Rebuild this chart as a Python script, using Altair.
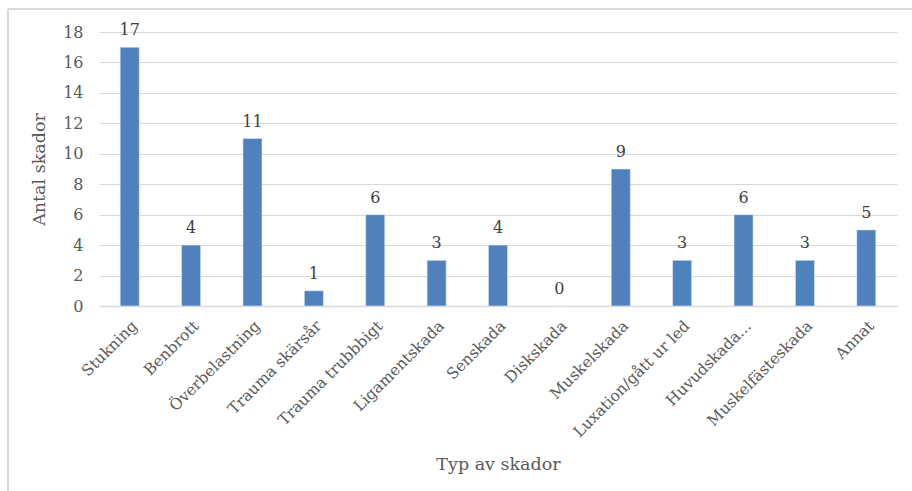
import altair as alt
import pandas as pd

categories = ["Stukning", "Benbrott", "Överbelastning", "Trauma skärsår", "Trauma trubbbigt",
              "Ligamentskada", "Senskada", "Diskskada", "Muskelskada", "Luxation/gått ur led",
              "Huvudskada...", "Muskelfästeskada", "Annat"]
values = [17, 4, 11, 1, 6, 3, 4, 0, 9, 3, 6, 3, 5]
y_ticks = [0, 2, 4, 6, 8, 10, 12, 14, 16, 18]

df = pd.DataFrame({"Typ": categories, "Antal": values})

FONT = "DejaVu Serif"
GRAY = "#595959"

x = alt.X("Typ:N", sort=categories, title="Typ av skador",
          scale=alt.Scale(paddingInner=0.69, paddingOuter=0.345),
          axis=alt.Axis(labelAngle=-45, labelFontSize=15.5, labelFont=FONT, labelColor=GRAY,
                        ticks=False, domainColor="#D9D9D9", domainWidth=1.5,
                        labelOverlap=False, labelLimit=300,
                        titleFont=FONT, titleFontSize=17.5, titleColor=GRAY,
                        titleFontWeight="normal", titlePadding=16, labelPadding=12))
y = alt.Y("Antal:Q", title="Antal skador",
          scale=alt.Scale(domain=[0, 18], nice=False),
          axis=alt.Axis(values=y_ticks, labelFontSize=16, labelFont=FONT,
                        labelColor=GRAY, ticks=False, domain=False, gridColor="#D9D9D9",
                        gridWidth=1.2, labelPadding=16, labelOverlap=False,
                        titleFont=FONT, titleFontSize=17.5, titleColor=GRAY,
                        titleFontWeight="normal", titlePadding=14))

base = alt.Chart(df).encode(x=x, y=y)
bars = base.mark_bar(color="#4F81BD", stroke="#dfe8f3", strokeWidth=0.6)
labels = base.mark_text(baseline="bottom", dy=-9, font=FONT, fontSize=16,
                        color="#404040").encode(text="Antal:Q")

frame_top = alt.Chart(df).mark_rule(color="#D9D9D9", strokeWidth=1.5).encode(
    x=alt.value(-91), x2=alt.value(830), y=alt.value(-23))
frame_left = alt.Chart(df).mark_rule(color="#D9D9D9", strokeWidth=1.5).encode(
    x=alt.value(-91), y=alt.value(-23), y2=alt.value(460))

chart = alt.layer(bars, labels, frame_top, frame_left).properties(
    width=798, height=274,
    autosize=alt.AutoSizeParams(type="none"),
    padding={"left": 99, "top": 32, "right": 15, "bottom": 185},
).configure_view(stroke=None)

chart.save("out.html", embed_options={"renderer": "svg", "actions": False})
